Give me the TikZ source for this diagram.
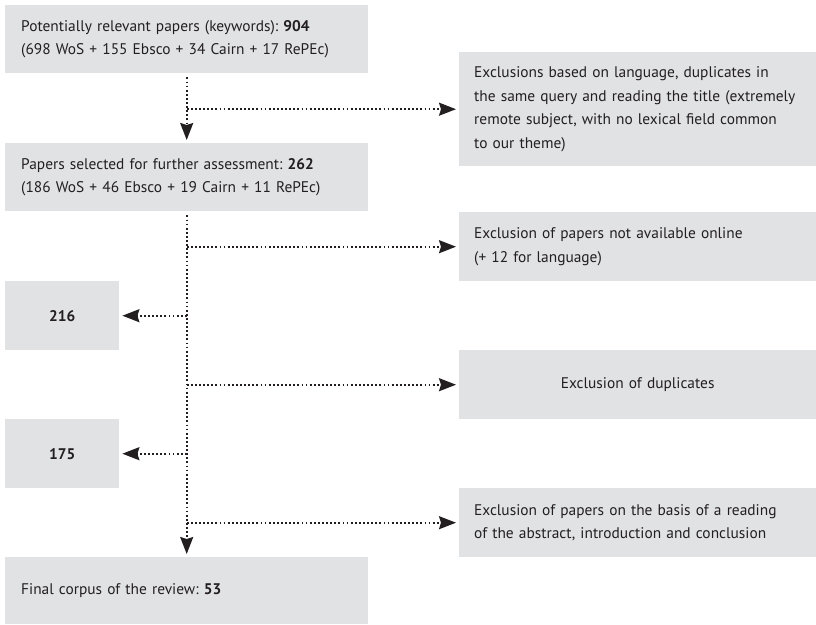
\documentclass[tikz,border=0pt]{standalone}
\usepackage{fontspec}
\setmainfont[WordSpace=0.8]{PT Sans}
\frenchspacing
\hyphenpenalty=10000
\usetikzlibrary{arrows.meta}
\definecolor{boxgray}{HTML}{E1E2E4}
\definecolor{ink}{HTML}{231F20}
\tikzset{
  box/.style={fill=boxgray, text=ink, inner sep=0pt, anchor=north west,
    font=\fontsize{15.4}{23.5}\selectfont},
  lbox/.style={box, minimum width=363pt, minimum height=68pt, text width=331pt, align=left},
  rbox/.style={box, minimum width=357pt, minimum height=69pt, text width=327pt, align=left},
  nbox/.style={box, minimum width=114pt, minimum height=69pt, align=center},
  flow/.style={draw=ink, line width=1.8pt, dash pattern=on 1.8pt off 2.3pt,
    -{Stealth[length=17pt,width=13pt,inset=2pt]}, shorten >=3pt}
}
\begin{document}
\begin{tikzpicture}[x=1pt,y=-1pt]
\useasboundingbox (0,0) rectangle (816,624);
\node[lbox] (b1) at (5,5) {Potentially relevant papers (keywords): \textbf{904}\\(698 WoS + 155 Ebsco + 34 Cairn + 17 RePEc)};
\node[rbox, minimum height=114pt] (r1) at (459,52) {Exclusions based on language, duplicates in\\the same query and reading the title (extremely\\remote subject, with no lexical field common\\to our theme)};
\node[lbox] (b2) at (5,143) {Papers selected for further assessment: \textbf{262}\\(186 WoS + 46 Ebsco + 19 Cairn + 11 RePEc)};
\node[rbox] (r2) at (459,212) {Exclusion of papers not available online\\(+ 12 for language)};
\node[nbox] (b216) at (5,281) {\textbf{216}};
\node[rbox, align=center] (r3) at (459,350) {Exclusion of duplicates};
\node[nbox] (b175) at (5,419) {\textbf{175}};
\node[rbox] (r4) at (459,488) {Exclusion of papers on the basis of a reading\\of the abstract, introduction and conclusion};
\node[lbox, minimum height=67pt] (bfin) at (5,557) {Final corpus of the review: \textbf{53}};
\draw[flow, shorten <=4pt] (b1.south) -- (b2.north);
\draw[flow, shorten <=4pt] (b2.south) -- (bfin.north);
\draw[flow] (b1.south |- r1.west) -- (r1.west);
\draw[flow] (b2.south |- r2.west) -- (r2.west);
\draw[flow] (b2.south |- b216.east) -- (b216.east);
\draw[flow] (b2.south |- r3.west) -- (r3.west);
\draw[flow] (b2.south |- b175.east) -- (b175.east);
\draw[flow] (b2.south |- r4.west) -- (r4.west);
\end{tikzpicture}
\end{document}
